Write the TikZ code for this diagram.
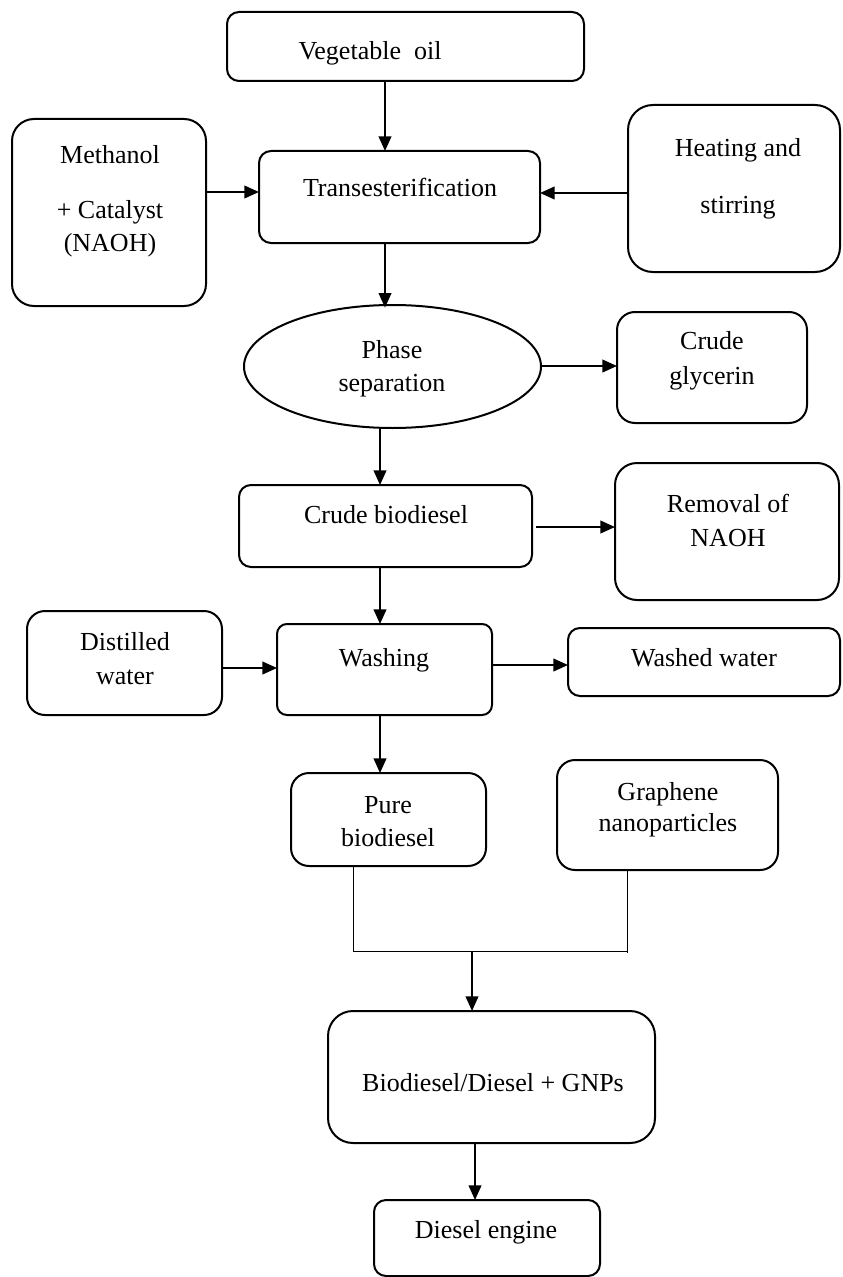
\documentclass[tikz,border=0pt]{standalone}
\usepackage{fontspec}
\setmainfont{Liberation Serif}
\usetikzlibrary{arrows.meta,shapes.geometric}
\begin{document}
\begin{tikzpicture}[x=0.75pt,y=-0.75pt,
 box/.style={draw, line width=1.5pt, inner sep=0pt, outer sep=0pt},
 txt/.style={inner sep=0pt, align=center, font=\fontsize{19.5pt}{24.75pt}\selectfont},
 arr/.style={line width=1.5pt, -{Triangle[length=11pt,width=9.5pt]}},
 thinline/.style={line width=0.75pt}]
\useasboundingbox (0,0) rectangle (842,1277);
% boxes
\node[box, rounded corners=9pt, minimum width=357*0.75pt, minimum height=69*0.75pt] (veg) at (405.5,46.5) {};
\node[box, rounded corners=9pt, minimum width=281*0.75pt, minimum height=92*0.75pt] (trans) at (399.5,197) {};
\node[box, rounded corners=16.5pt, minimum width=194*0.75pt, minimum height=187*0.75pt] (meth) at (109,212.5) {};
\node[box, rounded corners=18.75pt, minimum width=212*0.75pt, minimum height=167*0.75pt] (heat) at (734,188.5) {};
\node[box, ellipse, minimum width=297*0.75pt, minimum height=123*0.75pt] (phase) at (392.5,366.5) {};
\node[box, rounded corners=13.5pt, minimum width=190*0.75pt, minimum height=111*0.75pt] (glyc) at (712,367.5) {};
\node[box, rounded corners=9pt, minimum width=293*0.75pt, minimum height=82*0.75pt] (cbio) at (385.5,526) {};
\node[box, rounded corners=16.5pt, minimum width=224*0.75pt, minimum height=137*0.75pt] (remo) at (727,531.5) {};
\node[box, rounded corners=7.5pt, minimum width=215*0.75pt, minimum height=91*0.75pt] (wash) at (384.5,669.5) {};
\node[box, rounded corners=13.5pt, minimum width=195*0.75pt, minimum height=104*0.75pt] (dist) at (124.5,663) {};
\node[box, rounded corners=9pt, minimum width=272*0.75pt, minimum height=68*0.75pt] (wwat) at (704,662) {};
\node[box, rounded corners=13.5pt, minimum width=195*0.75pt, minimum height=93*0.75pt] (pure) at (388.5,819.5) {};
\node[box, rounded corners=13.5pt, minimum width=221*0.75pt, minimum height=110*0.75pt] (graph) at (667.5,815) {};
\node[box, rounded corners=18.75pt, minimum width=327*0.75pt, minimum height=132*0.75pt] (blend) at (491.5,1077) {};
\node[box, rounded corners=9pt, minimum width=226*0.75pt, minimum height=76*0.75pt] (eng) at (487,1238) {};
% texts
\node[txt] (tveg) at (370,53) {Vegetable~~oil};
\node[txt] (ttrans) at (400,187) {Transesterification};
\node[txt] (tmeth1) at (110,155) {Methanol};
\node[txt] (tmeth2) at (110,228.5) {+ Catalyst\\(NAOH)};
\node[txt, font=\fontsize{19.5pt}{42.75pt}\selectfont] (theat) at (738,178.5) {Heating and\\stirring};
\node[txt] (tphase) at (392,368.5) {Phase\\separation};
\node[txt, font=\fontsize{19.5pt}{26.25pt}\selectfont] (tglyc) at (712,360.5) {Crude\\glycerin};
\node[txt] (tcbio) at (386,515) {Crude biodiesel};
\node[txt, font=\fontsize{19.5pt}{25.5pt}\selectfont] (tremo) at (728,520) {Removal of\\NAOH};
\node[txt] (twash) at (384,660) {Washing};
\node[txt, font=\fontsize{19.5pt}{25.5pt}\selectfont] (tdist) at (125,659) {Distilled\\water};
\node[txt] (twwat) at (704,658) {Washed water};
\node[txt] (tpure) at (388,821.5) {Pure\\biodiesel};
\node[txt, font=\fontsize{19.5pt}{23.25pt}\selectfont] (tgraph) at (668,809.5) {Graphene\\nanoparticles};
\node[txt] (tblend) at (493,1083) {Biodiesel/Diesel + GNPs};
\node[txt] (teng) at (486,1232) {Diesel engine};
% junction coordinates
\coordinate (jl) at (353,951);
\coordinate (jr) at (627,951);
\coordinate (jm) at (472,951);
% connectors
\draw[arr] (veg.south -| 385,0) -- (trans.north -| 385,0);
\draw[arr] (meth.east |- 0,192) -- (trans.west |- 0,192);
\draw[arr] (heat.west |- 0,193) -- (trans.east |- 0,193);
\draw[arr] (trans.south -| 385,0) -- ([yshift=-2pt]phase.north -| 385,0);
\draw[arr] (phase.east |- 0,366) -- (glyc.west |- 0,366);
\draw[arr] (phase.south -| 380,0) -- (cbio.north -| 380,0);
\draw[arr] ([xshift=3pt]cbio.east |- 0,527) -- (remo.west |- 0,527);
\draw[arr] (cbio.south -| 380,0) -- (wash.north -| 380,0);
\draw[arr] (dist.east |- 0,668) -- (wash.west |- 0,668);
\draw[arr] (wash.east |- 0,665) -- (wwat.west |- 0,665);
\draw[arr] (wash.south -| 380,0) -- (pure.north -| 380,0);
\draw[thinline] (pure.south -| jl) -- (jl) -- (jr);
\draw[thinline] (graph.south -| jr) -- ([yshift=-1.5pt]jr);
\draw[arr] (jm) -- (blend.north -| jm);
\draw[arr] (blend.south -| 475,0) -- (eng.north -| 475,0);
\end{tikzpicture}
\end{document}
